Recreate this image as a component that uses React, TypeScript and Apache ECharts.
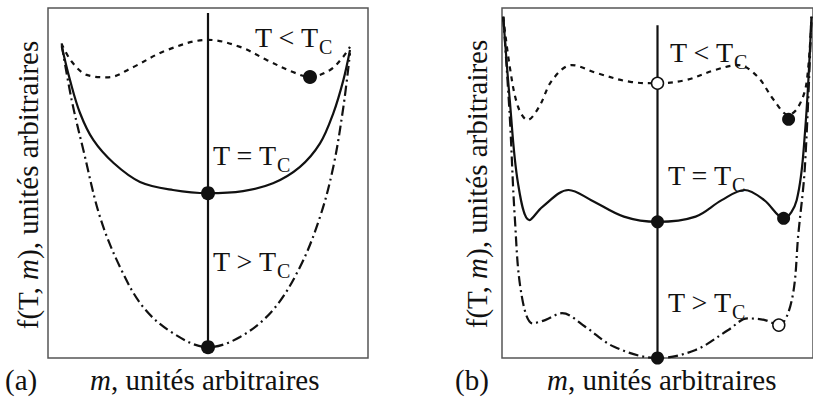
import React, { useEffect, useRef } from "react";
import * as echarts from "echarts";

// Panel (a): curves f(T, m), [m, f]
const aBelowTc: [number, number][] = [
  [-0.916, 8.99], [-0.854, 8.48], [-0.758, 8.09], [-0.623, 8.02], [-0.469, 8.31],
  [-0.256, 8.8], [0, 9.09], [0.2, 8.89], [0.369, 8.51], [0.531, 8.17],
  [0.6375, 8.03], [0.763, 8.23], [0.844, 8.6], [0.8875, 8.89],
];
const aAtTc: [number, number][] = [
  [-0.914, 8.9], [-0.8625, 7.94], [-0.8, 7.0], [-0.717, 6.23], [-0.59, 5.57],
  [-0.425, 5.03], [-0.219, 4.8], [0, 4.71], [0.219, 4.77], [0.406, 4.99],
  [0.575, 5.46], [0.7, 6.13], [0.783, 6.99], [0.846, 7.94], [0.8875, 8.8],
];
const aAboveTc: [number, number][] = [
  [-0.914, 8.94], [-0.852, 7.37], [-0.779, 5.94], [-0.675, 4.03], [-0.55, 2.6],
  [-0.406, 1.46], [-0.219, 0.71], [0, 0.31], [0.2, 0.6], [0.406, 1.37],
  [0.575, 2.6], [0.7, 4.03], [0.783, 5.46], [0.846, 7.17], [0.8875, 8.71],
];
const aAxis: [number, number][] = [[0, 0.31], [0, 9.86]];
const aDots: [number, number][] = [[0, 4.71], [0, 0.31], [0.6375, 8.03]];

// Panel (b)
const bBelowTc: [number, number][] = [
  [-0.992, 9.75], [-0.95, 8.32], [-0.897, 7.18], [-0.835, 6.8], [-0.761, 7.18],
  [-0.677, 7.94], [-0.552, 8.37], [-0.384, 8.13], [-0.174, 7.89], [0, 7.85],
  [0.182, 7.94], [0.371, 8.23], [0.518, 8.37], [0.643, 8.04], [0.748, 7.37],
  [0.843, 6.94], [0.906, 7.18], [0.958, 7.85], [0.99, 9.75],
];
const bAtTc: [number, number][] = [
  [-0.992, 9.75], [-0.95, 7.37], [-0.897, 4.99], [-0.824, 3.94], [-0.74, 4.32],
  [-0.572, 4.8], [-0.426, 4.51], [-0.216, 4.04], [0, 3.89], [0.245, 4.04],
  [0.413, 4.51], [0.56, 4.8], [0.686, 4.51], [0.811, 3.99], [0.895, 4.51],
  [0.948, 6.42], [0.99, 9.75],
];
const bAboveTc: [number, number][] = [
  [-0.992, 9.75], [-0.95, 6.9], [-0.918, 4.04], [-0.876, 1.85], [-0.803, 0.99],
  [-0.719, 1.09], [-0.614, 1.28], [-0.467, 0.9], [-0.279, 0.32], [0, 0],
  [0.245, 0.23], [0.455, 0.8], [0.58, 1.13], [0.686, 1.09], [0.78, 0.94],
  [0.864, 1.66], [0.906, 3.56], [0.948, 5.47], [0.99, 9.75],
];
const bAxis: [number, number][] = [[0, 0], [0, 9.51]];
const bDots: [number, number][] = [[0, 3.89], [0.811, 3.99], [0.843, 6.82], [0, 0]];
const bOpen: [number, number][] = [[0, 7.85], [0.78, 0.94]];

const curveLabels = ["T < T", "T = T", "T > T"];
const subscript = "C";
const panelTags = ["(a)", "(b)"];
const xTitle = "unités arbitraires";
const yTitle = "unités arbitraires";

const FONT = "Liberation Serif, DejaVu Serif, serif";
const INK = "#111";

export default function App() {
  const ref = useRef<HTMLDivElement>(null);
  useEffect(() => {
    document.body.style.margin = "0";
    if (!ref.current) return;
    const chart = echarts.init(ref.current, undefined, { renderer: "svg" });

    const dashed = { type: [5, 5] as number[], width: 2.2, color: INK };
    const solid = { type: "solid", width: 2.2, color: INK };
    const dashDot = { type: [10, 4, 2, 4] as number[], width: 2.2, color: INK };

    const line = (idx: number, data: [number, number][], ls: any, smooth: number | boolean = 0.35) => ({
      type: "line",
      xAxisIndex: idx,
      yAxisIndex: idx,
      data,
      smooth,
      symbol: "none",
      lineStyle: ls,
      silent: true,
      z: 2,
    });
    const dots = (idx: number, data: [number, number][], size: number, open = false) => ({
      type: "scatter",
      xAxisIndex: idx,
      yAxisIndex: idx,
      data,
      symbolSize: size,
      clip: false,
      silent: true,
      itemStyle: open
        ? { color: "#fff", borderColor: INK, borderWidth: 1.5, opacity: 1 }
        : { color: INK, opacity: 1 },
      z: 5,
    });

    const rich = {
      s: { fontSize: 20, fontFamily: FONT, color: INK, padding: [20, 0, 0, 0] },
      i: { fontStyle: "italic", fontFamily: FONT, fontSize: 29, color: INK },
    };
    const label = (text: string, x: number, y: number) => ({
      type: "text",
      x,
      y,
      silent: true,
      style: {
        text: `${text}{s|${subscript}}`,
        fontFamily: FONT,
        fontSize: 28,
        fill: INK,
        textAlign: "left",
        textVerticalAlign: "middle",
        rich,
      },
      z: 10,
    });
    const plain = (text: string, x: number, y: number, rot = 0, align = "left") => ({
      type: "text",
      x,
      y,
      rotation: rot,
      silent: true,
      style: {
        text,
        fontFamily: FONT,
        fontSize: 29,
        fill: INK,
        textAlign: align,
        textVerticalAlign: "middle",
        rich,
      },
      z: 10,
    });

    const axisOff = { show: false };
    chart.setOption({
      animation: false,
      textStyle: { fontFamily: FONT },
      grid: [
        { left: 48, top: 8, width: 320, height: 350, show: true, borderColor: "#555", borderWidth: 1.5, backgroundColor: "transparent" },
        { left: 502, top: 8, width: 318, height: 350, show: true, borderColor: "#555", borderWidth: 1.5, backgroundColor: "transparent" },
      ],
      xAxis: [
        { type: "value", gridIndex: 0, min: -1, max: 1, ...axisOff },
        { type: "value", gridIndex: 1, min: -1, max: 1, ...axisOff },
      ],
      yAxis: [
        { type: "value", gridIndex: 0, min: 0, max: 10, ...axisOff },
        { type: "value", gridIndex: 1, min: 0, max: 10, ...axisOff },
      ],
      series: [
        line(0, aBelowTc, dashed),
        line(0, aAtTc, solid),
        line(0, aAboveTc, dashDot),
        line(0, aAxis, solid, false),
        dots(0, aDots, 14),
        line(1, bBelowTc, dashed),
        line(1, bAtTc, solid),
        line(1, bAboveTc, dashDot),
        line(1, bAxis, solid, false),
        dots(1, bDots, 13),
        dots(1, bOpen, 12, true),
      ],
      graphic: [
        label(curveLabels[0], 255, 37),
        label(curveLabels[1], 213, 155),
        label(curveLabels[2], 213, 261),
        label(curveLabels[0], 670, 52),
        label(curveLabels[1], 668, 175),
        label(curveLabels[2], 668, 302),
        plain(panelTags[0], 5, 380),
        plain(`{i|m}, ${xTitle}`, 90, 380),
        plain(panelTags[1], 455, 380),
        plain(`{i|m}, ${xTitle}`, 547, 380),
        plain(`f(T, {i|m}), ${yTitle}`, 28, 185, Math.PI / 2, "center"),
        plain(`f(T, {i|m}), ${yTitle}`, 477, 184, Math.PI / 2, "center"),
      ],
    });
    return () => chart.dispose();
  }, []);
  return <div ref={ref} style={{ width: 813, height: 402 }} />;
}
